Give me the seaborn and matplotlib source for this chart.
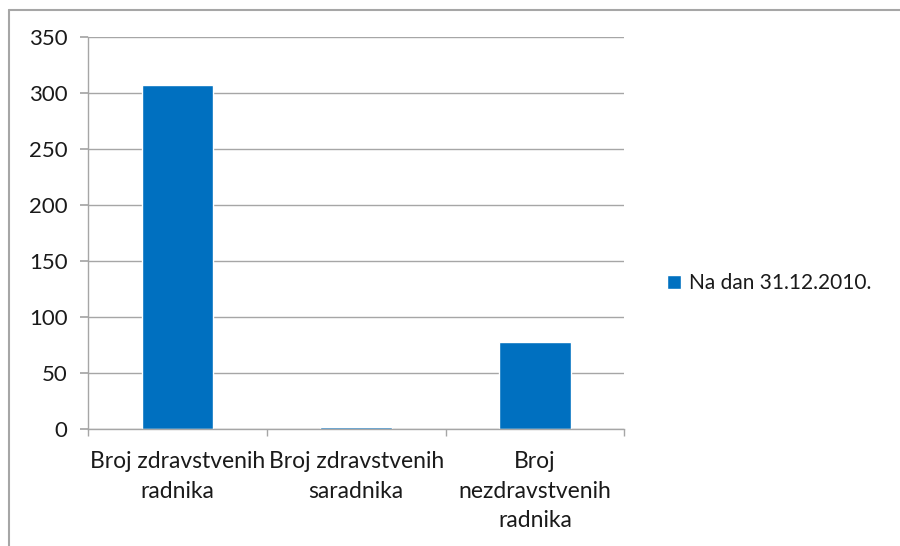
import pandas as pd
import matplotlib
matplotlib.use("Agg")
import matplotlib.pyplot as plt
from matplotlib.lines import Line2D
import seaborn as sns

# podaci
kategorije = ["Broj zdravstvenih\nradnika", "Broj zdravstvenih\nsaradnika", "Broj\nnezdravstvenih\nradnika"]
vrijednosti = [307, 2, 78]
serija = "Na dan 31.12.2010."

df = pd.DataFrame({"kategorija": kategorije, "broj": vrijednosti, "serija": serija})

sns.set_theme(style="white")
plt.rcParams["font.family"] = ["Lato", "DejaVu Sans"]
plt.rcParams["text.color"] = "#1a1a1a"
plt.rcParams["xtick.labelcolor"] = "#1a1a1a"
plt.rcParams["ytick.labelcolor"] = "#1a1a1a"

fig = plt.figure(figsize=(9, 5.46), dpi=100)
ax = fig.add_axes([0.0978, 0.2143, 0.596, 0.718])

sns.barplot(data=df, x="kategorija", y="broj", hue="serija", palette=["#0070C0"],
            width=0.4, saturation=1, ax=ax)

siva = "#a6a6a6"
ax.set_ylim(0, 350)
ax.set_xlim(-0.5, 2.5)
ax.set_yticks(range(0, 351, 50))
ax.yaxis.grid(True, color=siva, lw=1)
ax.set_axisbelow(True)
for s in ["top", "right"]:
    ax.spines[s].set_visible(False)
for s in ["left", "bottom"]:
    ax.spines[s].set_color(siva)
    ax.spines[s].set_linewidth(1)

ax.tick_params(axis="y", left=True, length=5.8, color=siva, labelsize=16, pad=9)
ax.tick_params(axis="x", which="major", length=0, labelsize=16.5, pad=16)
ax.set_xticks([-0.5, 0.5, 1.5, 2.5], minor=True)
ax.tick_params(axis="x", which="minor", bottom=True, length=5, color=siva)
for lbl in ax.get_xticklabels():
    lbl.set_linespacing(1.5)
ax.set_xlabel("")
ax.set_ylabel("")

ax.legend(loc="center left", bbox_to_anchor=(0.72, 0.481), bbox_transform=fig.transFigure,
          frameon=False, fontsize=15, handlelength=0.7, handleheight=0.7,
          handletextpad=0.35)

# okvir grafikona
fig.add_artist(Line2D([0.01, 0.01], [0, 0.982], color=siva, lw=1.5, transform=fig.transFigure))
fig.add_artist(Line2D([0.01, 1], [0.982, 0.982], color=siva, lw=1.5, transform=fig.transFigure))

fig.savefig("out.png", dpi=100)
